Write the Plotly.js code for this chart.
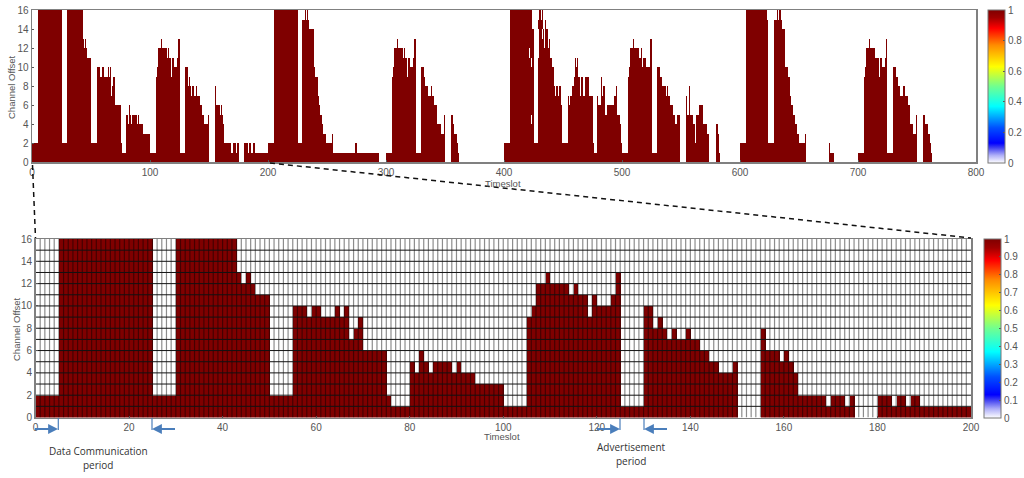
<!DOCTYPE html>
<html>
<head>
<meta charset="utf-8">
<script src="https://cdn.plot.ly/plotly-3.0.1.min.js"></script>
<style>
  html, body { margin: 0; padding: 0; background: #fff; }
  #chart { width: 1024px; height: 478px; }
</style>
</head>
<body>
<div id="chart"></div>
<script>
// highest occupied channel offset per timeslot, one list per 200 slots
const slots000 = [
  2,2,2,2,2,16,16,16,16,16,16,16,16,16,16,16,16,16,16,16,
  16,16,16,16,16,2,2,2,2,2,16,16,16,16,16,16,16,16,16,16,
  16,16,16,13,12,13,12,11,11,11,2,2,2,2,2,10,10,10,9,10,
  10,9,9,9,10,9,10,7,8,9,6,6,6,6,6,2,1,1,1,1,
  5,4,6,5,4,5,5,5,5,4,5,4,4,4,3,3,3,3,3,3,
  1,1,1,1,1,9,10,12,12,13,12,12,12,12,11,12,11,11,9,11,
  10,10,10,11,13,1,1,1,1,1,10,10,8,9,8,7,8,7,7,8,
  7,7,6,6,5,5,4,4,4,5,0,0,0,0,0,8,6,6,6,5,
  6,5,4,2,2,2,2,2,2,1,2,2,2,1,2,0,0,0,0,0,
  2,2,2,1,2,2,1,2,2,1,1,1,1,1,1,1,1,1,1,1
];
const slots200 = [
  2,2,2,2,2,16,16,16,16,16,16,16,16,16,16,16,16,16,16,16,
  16,16,16,16,16,2,2,2,2,15,15,16,15,16,15,14,14,14,14,10,
  9,9,7,6,5,5,4,3,3,2,2,2,2,2,3,1,1,1,1,1,
  1,1,1,1,1,1,1,1,1,1,1,1,1,1,2,1,1,1,1,1,
  1,1,1,1,1,1,1,1,1,1,1,1,1,1,0,0,0,0,0,0,
  1,1,1,1,1,9,10,12,12,13,12,12,12,12,11,12,11,11,9,11,
  10,10,10,11,13,1,1,1,1,1,10,10,9,8,8,8,7,7,8,7,
  7,6,6,4,4,4,4,3,3,5,0,0,0,0,0,5,5,4,3,3,
  2,1,0,0,0,0,0,0,0,0,0,0,0,0,0,0,0,0,0,0,
  0,0,0,0,0,0,0,0,0,0,0,0,0,0,0,0,0,0,0,0
];
const slots400 = [
  2,2,2,2,2,16,16,16,16,16,16,16,16,16,16,16,16,16,16,16,
  16,16,16,16,14,2,2,2,2,15,16,15,16,14,12,15,14,12,13,11,
  11,10,8,7,8,8,7,8,6,2,2,2,2,2,7,6,7,7,8,9,
  11,10,11,9,7,9,9,7,7,9,9,9,7,7,7,2,1,1,1,7,
  6,6,9,7,8,8,5,6,6,6,6,6,6,7,7,8,5,5,4,2,
  1,1,1,1,1,9,10,12,12,13,12,12,12,12,11,11,12,10,11,11,
  10,10,10,10,13,1,1,1,1,1,10,10,9,9,8,8,8,7,8,7,
  7,6,6,5,5,4,4,5,5,0,0,0,0,0,7,5,5,8,5,5,
  4,4,2,5,5,6,6,6,6,4,4,4,3,3,0,0,0,0,0,0,
  4,3,1,0,0,0,0,0,0,0,0,0,0,0,0,0,0,0,0,0
];
const slots600 = [
  2,2,2,2,2,16,16,16,16,16,16,16,16,16,16,16,16,16,16,16,
  16,16,16,15,2,2,2,2,2,15,15,16,15,16,16,15,14,14,10,10,
  10,9,7,6,6,5,5,4,3,3,2,2,2,2,2,3,0,0,0,0,
  0,0,0,0,0,0,0,0,0,0,0,0,0,0,0,2,1,1,1,1,
  0,0,0,0,0,0,0,0,0,0,0,0,0,0,0,0,0,0,0,0,
  1,1,1,1,1,9,10,12,12,13,12,12,12,12,11,11,11,11,9,11,
  10,10,10,11,13,1,1,1,1,1,10,10,9,9,8,8,7,7,8,8,
  7,7,6,6,4,4,4,3,3,5,0,0,0,0,0,5,5,4,4,3,
  3,2,1,0,0,0,0,0,0,0,0,0,0,0,0,0,0,0,0,0,
  0,0,0,0,0,0,0,0,0,0,0,0,0,0,0,0,0,0,0,0
];
// free cells under the top of a column: [timeslot, channel]
const freeCells = [[421, 11], [423, 10], [423, 4], [429, 11], [429, 12], [429, 13], [432, 13]];

const channelTicks = [0, 2, 4, 6, 8, 10, 12, 14, 16];
const overviewTicks = [0, 100, 200, 300, 400, 500, 600, 700, 800];
const detailTicks = [0, 20, 40, 60, 80, 100, 120, 140, 160, 180, 200];
const overviewBarTicks = [0, 0.2, 0.4, 0.6, 0.8, 1];
const detailBarTicks = [0, 0.1, 0.2, 0.3, 0.4, 0.5, 0.6, 0.7, 0.8, 0.9, 1];

const CHANNELS = 16;
const W = 1024;
const H = 478;
// the colorbars sit in a fixed right margin, the plot area ends at this pixel
const PLOT_W = 976;
const TICK_FONT = { family: "Liberation Sans", size: 10, color: "#555" };
const TITLE_FONT = { family: "Liberation Sans", size: 9.5, color: "#555" };
const NOTE_FONT = { family: "Open Sans", size: 10, color: "#333" };
const ARROW_COLOR = "#4a7ebb";

const jetWhite = [
  [0, "#ffffff"], [0.05, "#b0b0f8"], [0.1, "#4040f0"], [0.13, "#0000ff"], [0.23, "#0050ff"],
  [0.37, "#00ffff"], [0.5, "#70ff90"], [0.63, "#ffff00"], [0.77, "#ff8c00"], [0.88, "#ff0000"],
  [0.95, "#a00000"], [1, "#7f0000"],
];

const fx = (px) => px / PLOT_W;
const fy = (py) => 1 - py / H;

function buildCells(heights, free) {
  const z = [];
  for (let channel = 0; channel < CHANNELS; channel += 1) {
    z.push(heights.map((h) => (channel < h ? 1 : 0)));
  }
  free.forEach(([slot, channel]) => {
    z[channel][slot] = 0;
  });
  return z;
}

function heatTrace(heights, free, axisX, axisY, colorbar) {
  return {
    type: "heatmap",
    z: buildCells(heights, free),
    x0: 0.5,
    dx: 1,
    y0: 0.5,
    dy: 1,
    xaxis: axisX,
    yaxis: axisY,
    zmin: 0,
    zmax: 1,
    zsmooth: false,
    colorscale: jetWhite,
    hoverinfo: "skip",
    colorbar,
  };
}

function barOptions(left, top, bottom, ticks) {
  return {
    xref: "container",
    yref: "container",
    x: left / W,
    xanchor: "left",
    xpad: 0,
    y: fy(bottom),
    yanchor: "bottom",
    ypad: 0,
    len: bottom - top,
    lenmode: "pixels",
    thickness: 17,
    thicknessmode: "pixels",
    outlinecolor: "#777",
    outlinewidth: 1,
    tickmode: "array",
    tickvals: ticks,
    ticks: "inside",
    ticklen: 2,
    tickcolor: "#555",
    tickfont: TICK_FONT,
  };
}

// cell borders of the zoomed plot
function gridTraces(slotCount) {
  const vx = [];
  const vy = [];
  for (let i = 1; i < slotCount; i += 1) {
    vx.push(i, i, null);
    vy.push(0, CHANNELS, null);
  }
  const hx = [];
  const hy = [];
  for (let j = 1; j < CHANNELS; j += 1) {
    hx.push(0, slotCount, null);
    hy.push(j, j, null);
  }
  const base = { type: "scatter", mode: "lines", xaxis: "x2", yaxis: "y2", hoverinfo: "skip", showlegend: false };
  return [
    { ...base, x: vx, y: vy, line: { color: "rgba(0,0,0,0.45)", width: 1.2 } },
    { ...base, x: hx, y: hy, line: { color: "#111", width: 1 } },
  ];
}

function axisX(left, right, range, ticks, anchor) {
  return {
    domain: [fx(left), fx(right)],
    range,
    anchor,
    tickmode: "array",
    tickvals: ticks,
    ticks: "inside",
    ticklen: 2,
    tickcolor: "#555",
    tickfont: TICK_FONT,
    showgrid: false,
    zeroline: false,
    showline: true,
    mirror: true,
    linecolor: "#808080",
    linewidth: 1.5,
  };
}

function axisY(top, bottom, anchor) {
  return {
    domain: [fy(bottom), fy(top)],
    range: [0, CHANNELS],
    anchor,
    tickmode: "array",
    tickvals: channelTicks,
    ticks: "inside",
    ticklen: 2,
    tickcolor: "#555",
    tickfont: TICK_FONT,
    showgrid: false,
    zeroline: false,
    showline: true,
    mirror: true,
    linecolor: "#808080",
    linewidth: 1.5,
  };
}

function paperLine(x0, y0, x1, y1, line) {
  return { type: "line", xref: "paper", yref: "paper", x0: fx(x0), y0: fy(y0), x1: fx(x1), y1: fy(y1), line, layer: "above" };
}

function periodMarker(edge, tail) {
  return {
    xref: "paper",
    yref: "paper",
    x: fx(edge),
    y: fy(429),
    text: " ",
    showarrow: true,
    arrowhead: 2,
    arrowsize: 1.1,
    arrowwidth: 1.8,
    arrowcolor: ARROW_COLOR,
    ax: tail - edge,
    ay: 0,
  };
}

function note(text, x, y, font = NOTE_FONT, textangle = 0) {
  return { xref: "paper", yref: "paper", x: fx(x), y: fy(y), text, textangle, showarrow: false, font, xanchor: "center", yanchor: "middle" };
}

const allSlots = [...slots000, ...slots200, ...slots400, ...slots600];

const data = [
  heatTrace(allSlots, freeCells, "x", "y", barOptions(988, 10, 163, overviewBarTicks)),
  heatTrace(slots000, [], "x2", "y2", barOptions(984, 239, 418, detailBarTicks)),
  ...gridTraces(slots000.length),
];

const dash = { color: "#111", width: 1.5, dash: "5px,4px" };
const bar = { color: ARROW_COLOR, width: 1.2 };

const layout = {
  width: W,
  height: H,
  margin: { l: 0, r: W - PLOT_W, t: 0, b: 0 },
  paper_bgcolor: "#fff",
  plot_bgcolor: "#fff",
  showlegend: false,
  xaxis: axisX(32, 976, [0, 800], overviewTicks, "y"),
  yaxis: axisY(10, 162, "x"),
  xaxis2: axisX(35.5, 971, [0, 200], detailTicks, "y2"),
  yaxis2: axisY(239, 417.5, "x2"),
  shapes: [
    paperLine(32.5, 165, 35.5, 238, dash),
    paperLine(270, 163, 971, 238, dash),
    paperLine(58.3, 418, 58.3, 430, bar),
    paperLine(152, 418, 152, 430, bar),
    paperLine(620, 418, 620, 430, bar),
    paperLine(644, 418, 644, 430, bar),
  ],
  annotations: [
    periodMarker(58, 32),
    periodMarker(152, 178),
    periodMarker(620, 594),
    periodMarker(644, 670),
    note("Timeslot", 503, 183, TITLE_FONT),
    note("Timeslot", 501.5, 436, TITLE_FONT),
    note("Channel Offset", 11, 87, TITLE_FONT, -90),
    note("Channel Offset", 16, 329, TITLE_FONT, -90),
    note("Data Communication", 98, 451),
    note("period", 98, 465),
    note("Advertisement", 631, 447),
    note("period", 631, 461),
  ],
};

Plotly.newPlot("chart", data, layout, { displayModeBar: false, staticPlot: true });
</script>
</body>
</html>
